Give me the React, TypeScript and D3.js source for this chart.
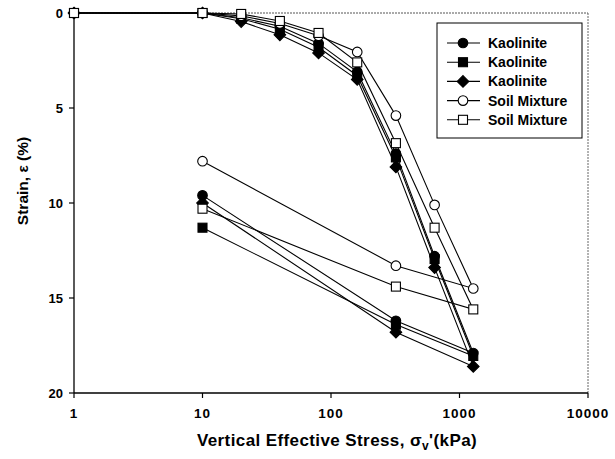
import React from "react";
import * as d3 from "d3";

const stresses = [1, 10, 20, 40, 80, 160, 320, 640, 1280, 320, 10];
const kaoliniteA = [0, 0, 0.25, 0.7, 1.6, 3.1, 7.4, 12.8, 17.9, 16.2, 9.6];
const kaoliniteB = [0, 0, 0.3, 0.85, 1.8, 3.3, 7.6, 12.95, 18.05, 16.4, 11.3];
const kaoliniteC = [0, 0, 0.45, 1.15, 2.1, 3.5, 8.1, 13.4, 18.6, 16.8, 10.0];
const soilA = [0, 0, 0.15, 0.55, 1.2, 2.05, 5.4, 10.1, 14.5, 13.3, 7.8];
const soilB = [0, 0, 0.05, 0.42, 1.05, 2.6, 6.85, 11.3, 15.6, 14.4, 10.3];
const seriesNames = ["Kaolinite", "Kaolinite", "Kaolinite", "Soil Mixture", "Soil Mixture"];
const seriesShapes = ["circle", "square", "diamond", "circle", "square"];
const seriesFilled = [true, true, true, false, false];
const xTicks = [1, 10, 100, 1000, 10000];
const yTicks = [0, 5, 10, 15, 20];

const allSeries = [kaoliniteA, kaoliniteB, kaoliniteC, soilA, soilB];

const FONT = "Liberation Sans, Arial, sans-serif";

function Marker({ shape, filled, x, y }: { shape: string; filled: boolean; x: number; y: number }) {
  const fill = filled ? "#000" : "#fff";
  if (shape === "circle") return <circle cx={x} cy={y} r={4.8} fill={fill} stroke="#000" strokeWidth={1.1} />;
  if (shape === "square") return <rect x={x - 4.5} y={y - 4.5} width={9} height={9} fill={fill} stroke="#000" strokeWidth={1.1} />;
  const s = 5.8;
  return <path d={`M${x},${y - s}L${x + s},${y}L${x},${y + s}L${x - s},${y}Z`} fill={fill} stroke="#000" strokeWidth={1.1} />;
}

export default function App() {
  const W = 615, H = 459;
  const x = d3.scaleLog().domain([1, 10000]).range([74, 588]);
  const y = d3.scaleLinear().domain([0, 20]).range([13, 393]);
  const line = d3.line<[number, number]>().x(d => x(d[0])).y(d => y(d[1]));
  const order = [0, 1, 2, 3, 4];
  return (
    <svg width={W} height={H} style={{ position: "absolute", left: 0, top: 0, background: "#fff" }}>
      <rect x={0} y={0} width={W} height={H} fill="#fff" />
      {/* frame */}
      <line x1={x(1)} x2={x(10000)} y1={y(0)} y2={y(0)} stroke="#555" strokeWidth={1} strokeDasharray="2,1" />
      <line x1={x(10000)} x2={x(10000)} y1={y(0)} y2={y(20)} stroke="#666" strokeWidth={1} strokeDasharray="2,1" />
      <line x1={x(1)} x2={x(1)} y1={y(0)} y2={y(20)} stroke="#000" strokeWidth={1.3} />
      <line x1={x(1)} x2={x(10000)} y1={y(20)} y2={y(20)} stroke="#000" strokeWidth={1.3} />
      {yTicks.map(t => (
        <g key={"y" + t}>
          <line x1={x(1) - 5} x2={x(1)} y1={y(t)} y2={y(t)} stroke="#000" strokeWidth={1.2} />
          <text x={x(1) - 11} y={y(t) + 4.5} textAnchor="end" fontFamily={FONT} fontWeight="bold" fontSize={13}>{t}</text>
        </g>
      ))}
      {xTicks.map(t => (
        <g key={"x" + t}>
          <line x1={x(t)} x2={x(t)} y1={y(20)} y2={y(20) + 5} stroke="#000" strokeWidth={1.2} />
          <text x={x(t)} y={y(20) + 25} textAnchor="middle" fontFamily={FONT} fontWeight="bold" fontSize={13.5} letterSpacing={1}>{t}</text>
        </g>
      ))}
      <text x={x(100) + 6} y={446} textAnchor="middle" fontFamily={FONT} fontWeight="bold" fontSize={17} letterSpacing={0.4}>
        Vertical Effective Stress, σ<tspan fontSize={12} dy={4}>v</tspan><tspan dy={-4}>'(kPa)</tspan>
      </text>
      <text transform={`translate(28,181) rotate(-90)`} textAnchor="middle" fontFamily={FONT} fontWeight="bold" fontSize={15.5}>
        Strain, ε (%)
      </text>
      {order.map(i => {
        const pts = stresses.map((s, j) => [s, allSeries[i][j]] as [number, number]);
        return (
          <g key={"s" + i}>
            <path d={line(pts) || ""} fill="none" stroke="#000" strokeWidth={1.1} />
          </g>
        );
      })}
      {order.map(i => (
        <g key={"m" + i}>
          {stresses.map((s, j) => (
            <Marker key={j} shape={seriesShapes[i]} filled={seriesFilled[i]} x={x(s)} y={y(allSeries[i][j])} />
          ))}
        </g>
      ))}
      {/* legend */}
      <rect x={437} y={23} width={145} height={115} fill="#fff" stroke="#000" strokeWidth={1} />
      {seriesNames.map((n, i) => {
        const ly = 43 + i * 19.2;
        return (
          <g key={"l" + i}>
            <line x1={447} x2={480} y1={ly} y2={ly} stroke="#000" strokeWidth={1.1} />
            <Marker shape={seriesShapes[i]} filled={seriesFilled[i]} x={463} y={ly} />
            <text x={488} y={ly + 5} fontFamily={FONT} fontWeight="bold" fontSize={14}>{n}</text>
          </g>
        );
      })}
    </svg>
  );
}
